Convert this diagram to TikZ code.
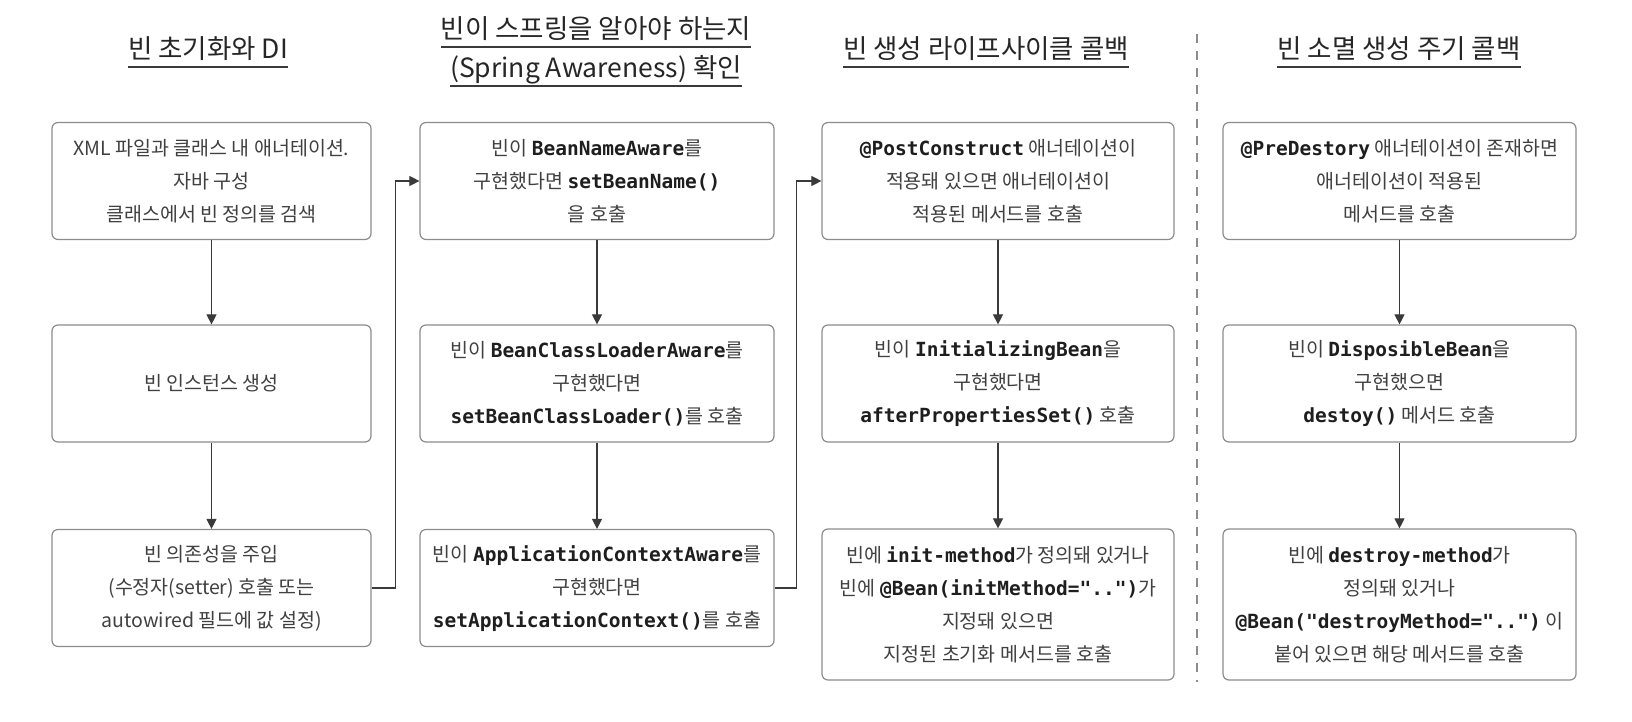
\documentclass[tikz,border=0pt]{standalone}
\usepackage{fontspec}
\setmainfont{Noto Sans CJK KR}
\newfontfamily\codefont{DejaVu Sans Mono}
\usetikzlibrary{arrows.meta}
\definecolor{txt}{HTML}{404040}
\definecolor{codec}{HTML}{1E1E1E}
\definecolor{boxc}{HTML}{8C8C8C}
\definecolor{linec}{HTML}{3A3A3A}
\definecolor{titlec}{HTML}{262626}
\newcommand\cd[1]{{\codefont\bfseries\color{codec}#1}}
\begin{document}
\begin{tikzpicture}[x=1pt,y=-1pt,
  box/.style={draw=boxc, line width=1.2pt, rounded corners=6pt, align=center, text=txt,
    font=\fontsize{19.5}{33}\selectfont, inner sep=0pt},
  colA/.style={box, minimum width=319pt},
  colB/.style={box, minimum width=354pt},
  colC/.style={box, minimum width=352pt},
  colD/.style={box, minimum width=353pt},
  hthree/.style={minimum height=117pt},
  hfour/.style={minimum height=151pt},
  arr/.style={draw=linec, line width=1.1pt, -{Triangle[length=10pt,width=10pt]}},
  ttl/.style={font=\fontsize{26.5}{30}\selectfont, text=titlec, inner sep=0pt, anchor=base},
  uline/.style={draw=linec, line width=1.6pt},
  sepline/.style={draw=boxc, line width=1.2pt, dash pattern=on 9pt off 8pt}
]
\fill[white] (0,0) rectangle (1632,722);
\useasboundingbox (0,0) rectangle (1632,722);

% titles
\node[ttl] (t1) at (208,59) {빈 초기화와 DI};
\node[ttl] (t2a) at (596,39) {빈이 스프링을 알아야 하는지};
\node[ttl] (t2b) at (596,78) {(Spring Awareness) 확인};
\node[ttl] (t3) at (986,59) {빈 생성 라이프사이클 콜백};
\node[ttl] (t4) at (1399,59) {빈 소멸 생성 주기 콜백};
\foreach \t in {t1,t2a,t2b,t3,t4}
  \draw[uline] ([yshift=-8pt]\t.base west) -- ([yshift=-8pt]\t.base east);

% column 1
\node[colA, hthree] (b11) at (211.5,181) {XML 파일과 클래스 내 애너테이션.\\자바 구성\\클래스에서 빈 정의를 검색};
\node[colA, hthree] (b12) at (211.5,383.5) {빈 인스턴스 생성};
\node[colA, hthree] (b13) at (211.5,588) {빈 의존성을 주입\\(수정자(setter) 호출 또는\\autowired 필드에 값 설정)};

% column 2
\node[colB, hthree] (b21) at (597,181) {빈이 \cd{BeanNameAware}를\\구현했다면 \cd{setBeanName()}\\을 호출};
\node[colB, hthree] (b22) at (597,383.5) {빈이 \cd{BeanClassLoaderAware}를\\구현했다면\\\cd{setBeanClassLoader()}를 호출};
\node[colB, hthree] (b23) at (597,588) {빈이 \cd{ApplicationContextAware}를\\구현했다면\\\cd{setApplicationContext()}를 호출};

% column 3
\node[colC, hthree] (b31) at (998,181) {\cd{@PostConstruct} 애너테이션이\\적용돼 있으면 애너테이션이\\적용된 메서드를 호출};
\node[colC, hthree] (b32) at (998,383.5) {빈이 \cd{InitializingBean}을\\구현했다면\\\cd{afterPropertiesSet()} 호출};
\node[colC, hfour] (b33) at (998,604.5) {빈에 \cd{init-method}가 정의돼 있거나\\빈에 \cd{@Bean(initMethod="..")}가\\지정돼 있으면\\지정된 초기화 메서드를 호출};

% column 4
\node[colD, hthree] (b41) at (1399.5,181) {\cd{@PreDestory} 애너테이션이 존재하면\\애너테이션이 적용된\\메서드를 호출};
\node[colD, hthree] (b42) at (1399.5,383.5) {빈이 \cd{DisposibleBean}을\\구현했으면\\\cd{destoy()} 메서드 호출};
\node[colD, hfour] (b43) at (1399.5,604.5) {빈에 \cd{destroy-method}가\\정의돼 있거나\\\cd{@Bean("destroyMethod="..")} 이\\붙어 있으면 해당 메서드를 호출};

% vertical arrows
\draw[arr] (b11.south) -- (b12.north);
\draw[arr] (b12.south) -- (b13.north);
\draw[arr] (b21.south) -- (b22.north);
\draw[arr] (b22.south) -- (b23.north);
\draw[arr] (b31.south) -- (b32.north);
\draw[arr] (b32.south) -- (b33.north);
\draw[arr] (b41.south) -- (b42.north);
\draw[arr] (b42.south) -- (b43.north);

% column connectors
\draw[arr] (b13.east) -- ++(24,0) |- (b21.west);
\draw[arr] (b23.east) -- ++(22,0) |- (b31.west);

% separator
\coordinate (dtop) at (1197,34);
\coordinate (dbot) at (1197,682);
\draw[sepline] (dtop) -- (dbot);
\end{tikzpicture}
\end{document}
